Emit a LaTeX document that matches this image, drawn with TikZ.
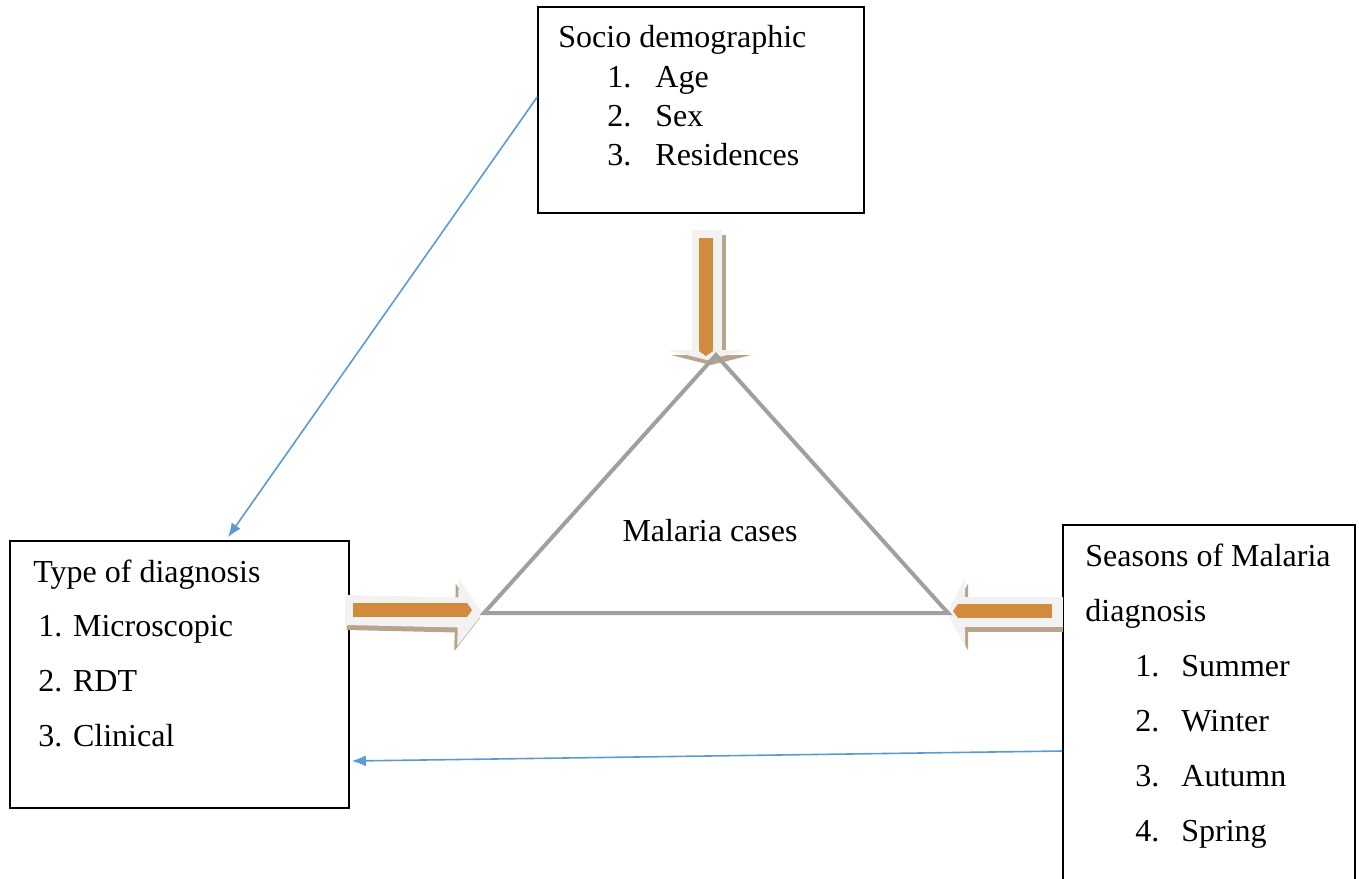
\documentclass[tikz,border=0pt]{standalone}
\usepackage{fontspec}
\setmainfont{Liberation Serif}
\usetikzlibrary{arrows.meta,fit,positioning}
\definecolor{linkblue}{RGB}{91,155,213}
\definecolor{fatgray}{RGB}{242,242,242}
\definecolor{fattan}{RGB}{184,164,140}
\definecolor{fatorange}{RGB}{208,139,60}
\definecolor{trigray}{RGB}{160,160,160}
\begin{document}
\begin{tikzpicture}[
  x=0.5pt, y=-0.5pt,
  box/.style={draw, line width=0.8pt, inner sep=0pt},
  txt/.style={anchor=base west, inner sep=0pt, font=\fontsize{16}{19}\selectfont},
  item/.style={txt},
  link/.style={linkblue, line width=0.8pt, -{Latex[length=7pt, width=5.5pt]}},
  tri/.style={trigray, line width=2pt, line join=miter},
  fatbar/.style={fatorange, line width=7pt, -{Triangle[width=7pt, length=2.5pt]}}
]
  \useasboundingbox (0,0) rectangle (1359,878);

  % Boxes
  \node[box, fit={(538,7) (864,213)}] (socio) {};
  \node[box, fit={(10,541) (349,808)}] (typ) {};
  \node[box, fit={(1063,525) (1355,890)}] (season) {};

  % Triangle corners
  \coordinate (apex) at (716,355);
  \coordinate (lft) at (484,613);
  \coordinate (rgt) at (948,613);

  % Fat arrows (shadow, body, bar)
  \coordinate (fatTopA) at (707,230);
  \coordinate (fatTopB) at (707,360);
  \coordinate (fatLftA) at (345,610);
  \coordinate (fatRgtA) at (1063,612);
  \coordinate (fatRgtB) at (947,612);

  \draw[fattan, line width=15pt, -{Triangle[width=40pt, length=5pt]}]
    ([shift={(4,5)}]fatTopA) -- ([shift={(4,5)}]fatTopB);
  \draw[fatgray, line width=15pt, -{Triangle[width=40pt, length=5pt]}] (fatTopA) -- (fatTopB);
  \draw[fatbar] (706,238) -- (706,356);

  \draw[fattan, line width=15pt, -{Triangle[width=33pt, length=12.5pt]}]
    ([shift={(2,5)}]fatLftA) -- ([shift={(-4,5)}]lft);
  \draw[fatgray, line width=15pt, -{Triangle[width=33pt, length=12.5pt]}] (fatLftA) -- ([xshift=-0.5pt]lft);
  \draw[fatbar] (353,610) -- (472,610);

  \draw[fattan, line width=15pt, -{Triangle[width=33pt, length=9pt]}]
    ([shift={(0,5)}]fatRgtA) -- ([shift={(3,5)}]fatRgtB);
  \draw[fatgray, line width=15pt, -{Triangle[width=33pt, length=9pt]}] (fatRgtA) -- (fatRgtB);
  \draw[fatbar] (1052,611) -- (953,611);

  % Triangle
  \draw[tri] (apex) -- (lft) -- (rgt) -- cycle;
  \node[txt, anchor=base] (cases) at (710,541) {Malaria cases};

  % Links
  \draw[link] ([yshift=6.5pt]socio.west) -- ([xshift=24.25pt, yshift=1.5pt]typ.north);
  \draw[link] ([yshift=-21.75pt]season.west) -- ([xshift=1pt, yshift=-43.25pt]typ.east);

  % Texts
  \node[txt] (sociot) at (558,47) {Socio demographic};
  \node[item] (age) at (607,87) {\makebox[24pt][l]{1.}Age};
  \node[item] (sex) at (607,126) {\makebox[24pt][l]{2.}Sex};
  \node[item] (res) at (607,165) {\makebox[24pt][l]{3.}Residences};

  \node[txt] (typt) at (33,582) {Type of diagnosis};
  \node[item] (micro) at (38,636) {1. Microscopic};
  \node[item] (rdt) at (38,691) {2. RDT};
  \node[item] (clin) at (38,746) {3. Clinical};

  \node[txt] (seasont) at (1085,566) {Seasons of Malaria};
  \node[txt] (seasonu) at (1085,621) {diagnosis};
  \node[item] (summer) at (1135,676) {\makebox[23pt][l]{1.}Summer};
  \node[item] (winter) at (1135,731) {\makebox[23pt][l]{2.}Winter};
  \node[item] (autumn) at (1135,786) {\makebox[23pt][l]{3.}Autumn};
  \node[item] (spring) at (1135,841) {\makebox[23pt][l]{4.}Spring};
\end{tikzpicture}
\end{document}
